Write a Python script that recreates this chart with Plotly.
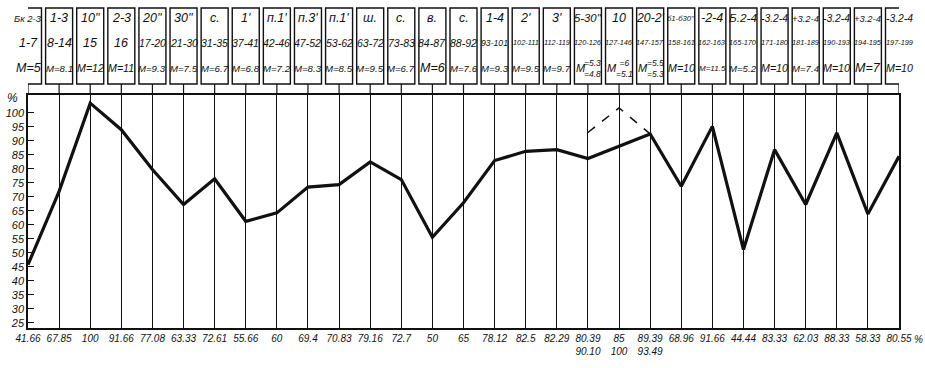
import plotly.graph_objects as go

# ---- data ----
box_top = ["Бк 2-3", "1-3", "10''", "2-3", "20''", "30''", "с.", "1'", "п.1'", "п.3'",
           "п.1'", "ш.", "с.", "в.", "с.", "1-4", "2'", "3'", "5-30''", "10",
           "20-2'", "б1-б30''", "-2-4", "Б.2-4", "-3.2-4", "+3.2-4", "-3.2-4", "+3.2-4", "-3.2-4"]
box_mid = ["1-7", "8-14", "15", "16", "17-20", "21-30", "31-35", "37-41", "42-46", "47-52",
           "53-62", "63-72", "73-83", "84-87", "88-92", "93-101", "102-111", "112-119", "120-126", "127-146",
           "147-157", "158-161", "162-163", "165-170", "171-180", "181-189", "190-193", "194-195", "197-199"]
box_bot = ["M=5", "M=8.1", "M=12", "M=11", "M=9.3", "M=7.5", "M=6.7", "M=6.8", "M=7.2", "M=8.3",
           "M=8.5", "M=9.5", "M=6.7", "M=6", "M=7.6", "M=9.3", "M=9.5", "M=9.7",
           "M|=5.3|=4.8", "M|=6|=5.1", "M|=5.5|=5.3",
           "M=10", "M=11.5", "M=5.2", "M=10", "M=7.4", "M=10", "M=7", "M=10"]
x_labels = ["41.66", "67.85", "100", "91.66", "77.08", "63.33", "72.61", "55.66", "60", "69.4",
            "70.83", "79.16", "72.7", "50", "65", "78.12", "82.5", "82.29", "80.39<br>90.10", "85<br>100",
            "89.39<br>93.49", "68.96", "91.66", "44.44", "83.33", "62.03", "88.33", "58.33", "80.55"]
values = [45.8, 72.0, 103.5, 94.0, 79.8, 67.3, 76.5, 61.3, 64.3, 73.5,
          74.4, 82.5, 76.2, 55.6, 67.9, 83.0, 86.3, 86.9, 83.7, 88.1,
          92.5, 73.8, 95.2, 51.2, 86.9, 67.3, 92.9, 63.9, 84.5]
dashed_idx = [18, 19, 20]
dashed_vals = [93.0, 101.8, 92.5]
y_ticks = list(range(25, 101, 5))

FONT = "Liberation Sans, Arial, sans-serif"
n = len(values)
xs = list(range(n))

fig = go.Figure()
fig.add_trace(go.Scatter(x=xs, y=values, mode="lines",
                         line=dict(color="#111", width=3.2), hoverinfo="skip"))
fig.add_trace(go.Scatter(x=dashed_idx, y=dashed_vals, mode="lines",
                         line=dict(color="#111", width=1.5, dash="dash"), hoverinfo="skip"))

plot_h = 328 - 95
def py(px):  # pixel y above plot top -> paper coords
    return 1 + (95 - px) / plot_h

def fnt(size):
    return dict(family=FONT, size=size, color="#111", style="italic")

EM = {".": 0.278, "-": 0.333, "=": 0.584, "M": 0.833, "'": 0.191, " ": 0.278, "+": 0.584}
def fit(txt, avail=27.0, cap=12.5):
    w = sum(EM.get(c, 0.556 if c.isdigit() else 0.56) for c in txt)
    return min(cap, avail / max(w, 0.5))

shapes = []
annotations = []
half = 13.5 / 31.1
for i in range(n):
    shapes.append(dict(type="rect", xref="x", yref="paper", x0=i - half, x1=i + half,
                       y0=py(84), y1=py(8), line=dict(color="#111", width=1.4)))
    shapes.append(dict(type="line", xref="x", yref="paper", x0=i, x1=i,
                       y0=1, y1=py(84), line=dict(color="#111", width=1.2)))
    for txt, ypx in ((box_top[i], 18), (box_mid[i], 43)):
        annotations.append(dict(x=i, y=py(ypx), xref="x", yref="paper", text=txt,
                                showarrow=False, xanchor="center", yanchor="middle", font=fnt(fit(txt))))
    b = box_bot[i]
    if "|" in b:
        m, up, lo = b.split("|")
        annotations.append(dict(x=i, y=py(68), xref="x", yref="paper", text=m,
                                showarrow=False, xanchor="center", yanchor="middle",
                                xshift=-7, font=fnt(11)))
        annotations.append(dict(x=i, y=py(68), xref="x", yref="paper", text=up + "<br>" + lo,
                                showarrow=False, xanchor="center", yanchor="middle",
                                xshift=5, font=fnt(8.5)))
    else:
        annotations.append(dict(x=i, y=py(68), xref="x", yref="paper", text=b,
                                showarrow=False, xanchor="center", yanchor="middle", font=fnt(fit(b))))

annotations.append(dict(x=0, y=py(98), xref="paper", yref="paper", text="%", showarrow=False,
                        xanchor="right", yanchor="middle", xshift=-8, font=fnt(12)))
annotations.append(dict(x=1, y=0, xref="paper", yref="paper", text="%", showarrow=False,
                        xanchor="left", yanchor="top", xshift=13, yshift=-4, font=fnt(10)))

fig.update_layout(
    width=925, height=368,
    margin=dict(l=28, r=26, t=95, b=40),
    paper_bgcolor="white", plot_bgcolor="white",
    showlegend=False,
    shapes=shapes, annotations=annotations,
    xaxis=dict(range=[0, n - 1], tickvals=xs, ticktext=x_labels, automargin=False,
               showgrid=True, gridcolor="#111", gridwidth=1.2,
               showline=True, linecolor="#111", linewidth=1.5, mirror=True,
               ticks="", zeroline=False, tickfont=fnt(10)),
    yaxis=dict(range=[23.2, 106.4], tickvals=y_ticks, ticktext=[str(v) for v in y_ticks],
               automargin=False,
               showgrid=False, showline=True, linecolor="#111", linewidth=1.5, mirror=True,
               ticks="inside", ticklen=6, tickcolor="#111", tickwidth=1.2, zeroline=False,
               tickfont=fnt(11)),
)

fig.write_html("out.html", config={"displayModeBar": False},
               post_script="document.body.style.margin='0';document.body.style.overflow='hidden';")
